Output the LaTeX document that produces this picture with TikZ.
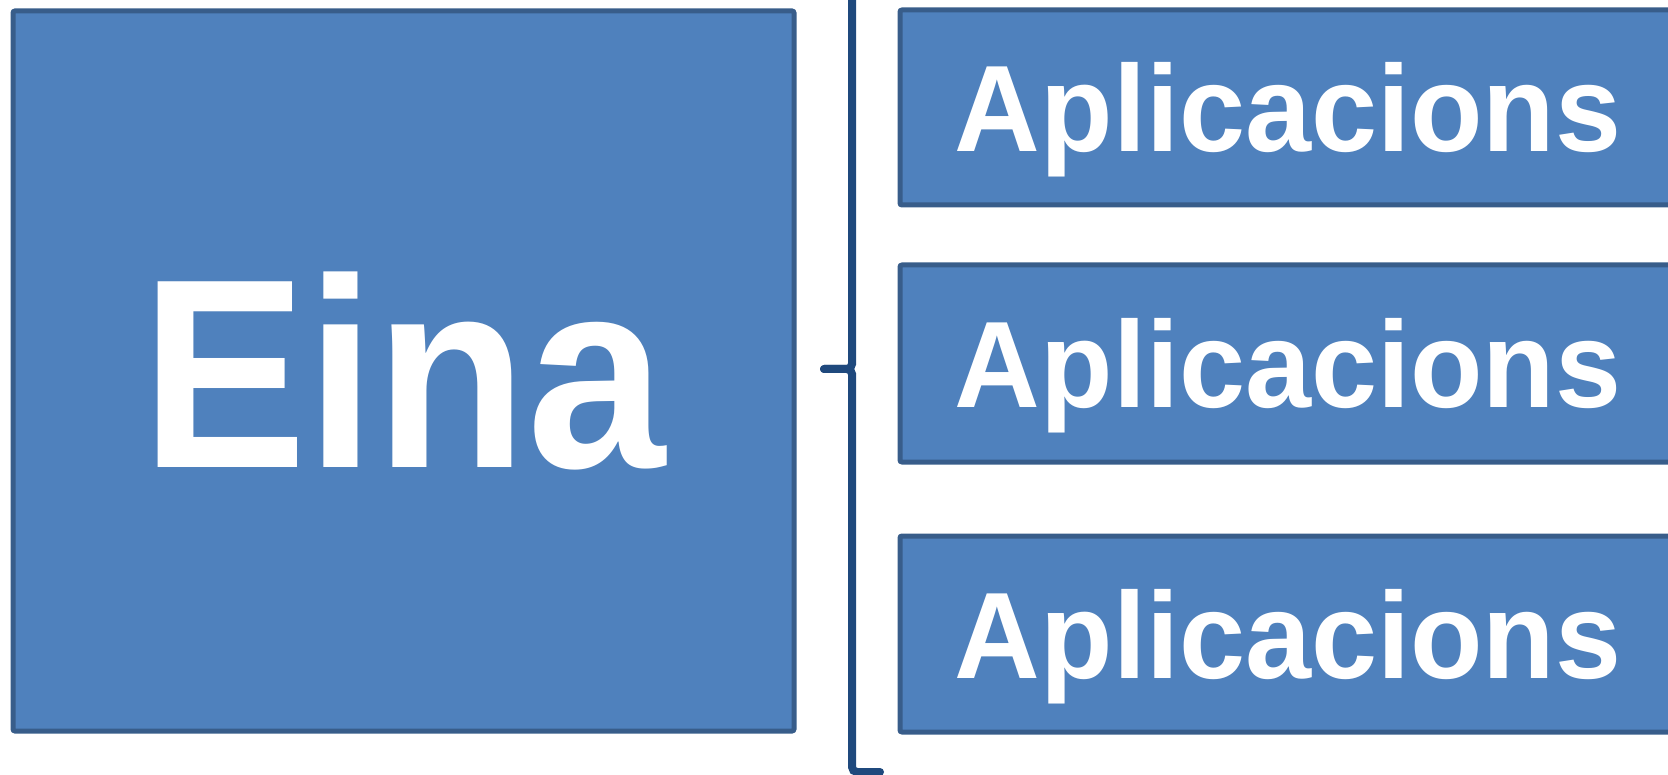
\documentclass[tikz,border=0pt]{standalone}
\usepackage{fontspec}
\setmainfont{Liberation Sans}
\definecolor{boxfill}{HTML}{4F81BD}
\definecolor{boxline}{HTML}{385D8A}
\definecolor{braceline}{HTML}{1F497D}
\tikzset{
  bluebox/.style={draw=boxline, fill=boxfill, line width=5pt, rounded corners=2pt,
    inner sep=0pt, text=white, align=center, text depth=0pt},
  bigtext/.style={font=\bfseries\fontsize{270}{270}\selectfont, text height=192pt},
  apptext/.style={font=\bfseries\fontsize{123}{123}\selectfont, text height=89pt},
  bracestroke/.style={draw=braceline, line width=8pt, rounded corners=5pt, line cap=round}
}
\begin{document}
\begin{tikzpicture}[x=1pt,y=-1pt]
\useasboundingbox (0,0) rectangle (1668,775);
\clip (0,0) rectangle (1668,775);
\node[bluebox, bigtext, minimum width=781pt, minimum height=720pt] (eina) at (403.5,371) {\scalebox{0.92}[1]{Eina}};
\node[bluebox, apptext, minimum width=776pt, minimum height=195pt] (app1) at (1288,107.5) {\scalebox{0.965}[1]{Aplicacions}};
\node[bluebox, apptext, minimum width=776pt, minimum height=197pt] (app2) at (1288,363.5) {\scalebox{0.965}[1]{Aplicacions}};
\node[bluebox, apptext, minimum width=776pt, minimum height=196pt] (app3) at (1288,634) {\scalebox{0.965}[1]{Aplicacions}};
\coordinate (tip) at (824,369);
\coordinate (mid) at (852,369);
\coordinate (topend) at (880,-34);
\coordinate (botend) at (880,772);
\path[bracestroke] (topend) -- (852,-34) -- (mid) -- (tip);
\path[bracestroke] (tip) -- (mid) -- (852,772) -- (botend);
\end{tikzpicture}
\end{document}
